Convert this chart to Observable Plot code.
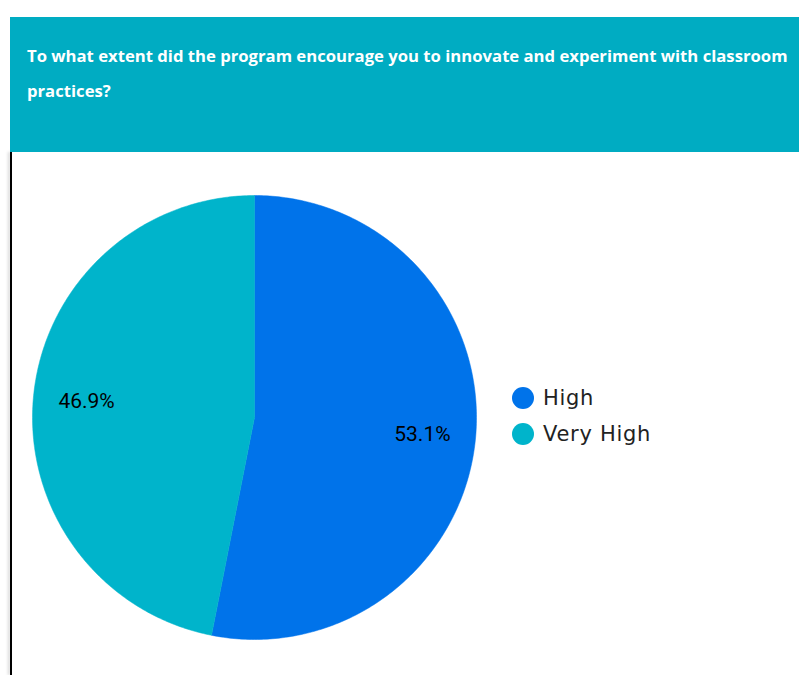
<!DOCTYPE html>
<html><head><meta charset="utf-8">
<script src="https://cdn.jsdelivr.net/npm/d3@7"></script>
<script src="https://cdn.jsdelivr.net/npm/@observablehq/plot@0.6"></script>
<style>
html,body{margin:0;padding:0;background:#fff;}
body{width:799px;height:675px;overflow:hidden;position:relative;}
#header{position:absolute;left:10px;top:17px;width:789px;height:135px;background:#00ACC2;}
.tline{position:absolute;left:17px;color:#fff;font-family:"Open Sans",sans-serif;font-weight:700;white-space:nowrap;line-height:1;}
#chart{position:absolute;left:0;top:152px;}
#vline{position:absolute;left:10px;top:152px;width:2px;height:523px;background:#000;box-shadow:-2px 0 3px rgba(0,0,0,0.18);}
.leg{position:absolute;left:512px;display:flex;align-items:center;font-family:"DejaVu Sans",sans-serif;font-size:21px;letter-spacing:0.7px;color:#222;white-space:nowrap;}
.sw{width:22px;height:22px;border-radius:50%;margin-right:9px;}
</style></head>
<body>
<div id="header">
  <div class="tline" id="t1"></div>
  <div class="tline" id="t2"></div>
</div>
<div id="chart"></div>
<div id="vline"></div>
<div id="legend"></div>
<script>
const titleLines = ["To what extent did the program encourage you to innovate and experiment with classroom", "practices?"];
const categories = ["High", "Very High"];
const values = [53.1, 46.9];
const colors = ["#0073EA", "#00B4CB"];

// title
const t1 = document.getElementById("t1"), t2 = document.getElementById("t2");
t1.textContent = titleLines[0]; t2.textContent = titleLines[1];
const ctx = document.createElement("canvas").getContext("2d");
ctx.font = "700 15px 'Open Sans'";
const w = ctx.measureText(titleLines[0]).width;
const fs = 15 * 761 / w;
for (const t of [t1, t2]) t.style.fontSize = fs + "px";
t1.style.top = (62 - 17 - 0.85 * fs) + "px";
t2.style.top = (97 - 17 - 0.85 * fs) + "px";

// pie geometry from values
const total = d3.sum(values);
const arcs = d3.pie().sort(null).value(d => d)(values);
const poly = [];
const labels = [];
arcs.forEach((a, i) => {
  const n = 240;
  poly.push({cat: categories[i], x: 0, y: 0});
  for (let k = 0; k <= n; k++) {
    const t = a.startAngle + (a.endAngle - a.startAngle) * k / n;
    poly.push({cat: categories[i], x: Math.sin(t), y: Math.cos(t)});
  }
  poly.push({cat: categories[i], x: 0, y: 0});
  const m = (a.startAngle + a.endAngle) / 2;
  labels.push({cat: categories[i], x: 0.76 * Math.sin(m), y: 0.76 * Math.cos(m), label: (values[i] / total * 100).toFixed(1) + "%"});
});

const plot = Plot.plot({
  width: 799, height: 523,
  marginLeft: 32, marginRight: 323, marginTop: 43, marginBottom: 36,
  x: {domain: [-1, 1], axis: null},
  y: {domain: [-1, 1], axis: null},
  color: {domain: categories, range: colors},
  style: {background: "transparent", overflow: "visible"},
  marks: [
    Plot.line(poly, {x: "x", y: "y", z: "cat", fill: "cat", stroke: "cat", strokeWidth: 0.5, curve: "linear"}),
    Plot.text(labels, {x: "x", y: "y", text: "label", fill: "#000", fontSize: 21, fontFamily: "Roboto"})
  ]
});
document.getElementById("chart").appendChild(plot);

// legend
const leg = document.getElementById("legend");
categories.forEach((c, i) => {
  const d = document.createElement("div");
  d.className = "leg";
  d.style.top = (398 - 14 + i * 36) + "px";
  d.style.height = "28px";
  d.innerHTML = `<div class="sw" style="background:${colors[i]}"></div><span>${c}</span>`;
  leg.appendChild(d);
});
</script>
</body></html>
